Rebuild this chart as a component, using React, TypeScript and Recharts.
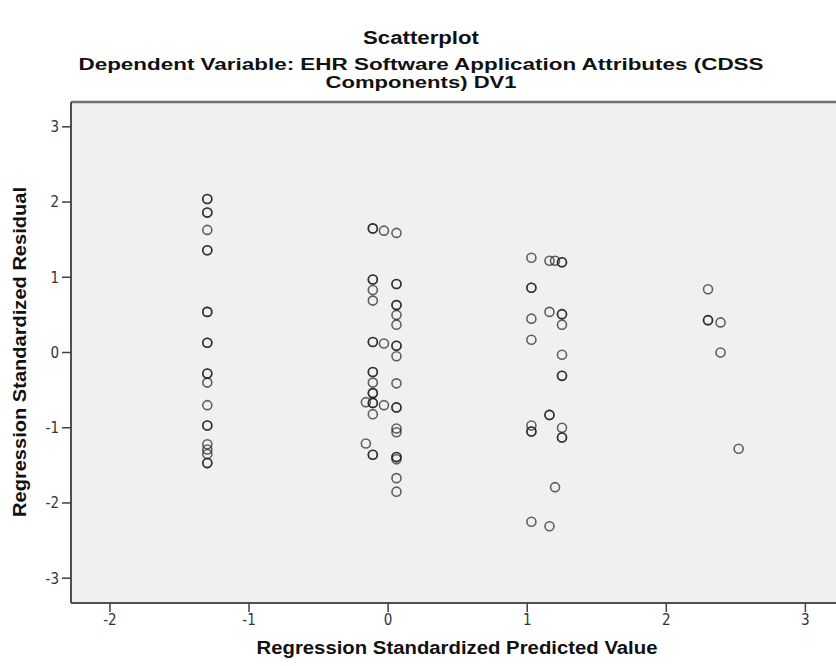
import React from "react";
import {
  ScatterChart,
  Scatter,
  XAxis,
  YAxis,
  CartesianGrid,
  ReferenceLine,
} from "recharts";

// Points as [predicted, residual]; repeated entries are overlapping cases (drawn darker)
const clusterA: [number, number][] = [
  [-1.3, 2.04], [-1.3, 2.04], [-1.3, 1.86], [-1.3, 1.86], [-1.3, 1.63],
  [-1.3, 1.36], [-1.3, 1.36], [-1.3, 0.54], [-1.3, 0.54], [-1.3, 0.13],
  [-1.3, 0.13], [-1.3, -0.28], [-1.3, -0.28], [-1.3, -0.4], [-1.3, -0.7],
  [-1.3, -0.97], [-1.3, -0.97], [-1.3, -1.22], [-1.3, -1.29], [-1.3, -1.35],
  [-1.3, -1.47], [-1.3, -1.47],
];

const clusterB: [number, number][] = [
  [-0.11, 1.65], [-0.11, 1.65], [-0.11, 0.97], [-0.11, 0.97], [-0.11, 0.83],
  [-0.11, 0.69], [-0.11, 0.14], [-0.11, 0.14], [-0.11, -0.26], [-0.11, -0.26],
  [-0.11, -0.4], [-0.11, -0.54], [-0.11, -0.54], [-0.11, -0.67], [-0.11, -0.67],
  [-0.11, -0.82], [-0.11, -1.36], [-0.11, -1.36],
  [-0.16, -0.66], [-0.16, -1.21],
  [-0.03, 1.62], [-0.03, 0.12], [-0.03, -0.7],
  [0.06, 1.59], [0.06, 0.91], [0.06, 0.91], [0.06, 0.63], [0.06, 0.63],
  [0.06, 0.5], [0.06, 0.37], [0.06, 0.09], [0.06, 0.09], [0.06, -0.05],
  [0.06, -0.41], [0.06, -0.73], [0.06, -0.73], [0.06, -1.01], [0.06, -1.06],
  [0.06, -1.39], [0.06, -1.39], [0.06, -1.42], [0.06, -1.67], [0.06, -1.85],
];

const clusterC: [number, number][] = [
  [1.03, 1.26], [1.03, 0.86], [1.03, 0.86], [1.03, 0.45], [1.03, 0.17],
  [1.03, -0.97], [1.03, -1.05], [1.03, -1.05], [1.03, -2.25],
  [1.16, 1.22], [1.16, 0.54], [1.16, -0.83], [1.16, -0.83], [1.16, -2.31],
  [1.2, 1.22], [1.2, -1.79],
  [1.25, 1.2], [1.25, 1.2], [1.25, 0.51], [1.25, 0.51], [1.25, 0.37],
  [1.25, -0.03], [1.25, -0.31], [1.25, -0.31], [1.25, -1.0], [1.25, -1.13],
  [1.25, -1.13],
];

const clusterD: [number, number][] = [
  [2.3, 0.84], [2.3, 0.43], [2.3, 0.43], [2.39, 0.4], [2.39, 0.0], [2.52, -1.28],
];

const xTicks = [-2, -1, 0, 1, 2, 3];
const yTicks = [-3, -2, -1, 0, 1, 2, 3];
const xDomain: [number, number] = [-2.28, 3.22];
const yDomain: [number, number] = [-3.33, 3.33];

const titleText = "Scatterplot";
const subtitleLine1 = "Dependent Variable: EHR Software Application Attributes (CDSS";
const subtitleLine2 = "Components) DV1";
const xTitle = "Regression Standardized Predicted Value";
const yTitle = "Regression Standardized Residual";

const allPoints = [...clusterA, ...clusterB, ...clusterC, ...clusterD].map(
  ([x, y]) => ({ x, y })
);

const tickFont = "'Liberation Sans Narrow', 'DejaVu Sans Condensed', 'Liberation Sans', sans-serif";
const titleFont = "'Liberation Sans Narrow', 'Liberation Sans', 'DejaVu Sans', sans-serif";

export default function App() {
  return (
    <div
      style={{
        position: "fixed",
        left: 0,
        top: 0,
        width: 836,
        height: 666,
        background: "#ffffff",
        overflow: "hidden",
      }}
    >
      <ScatterChart
        width={836}
        height={666}
        margin={{ top: 102, right: 0, bottom: 0, left: 0 }}
      >
        <CartesianGrid fill="#f0f0f0" horizontal={false} vertical={false} />
        <XAxis
          type="number"
          dataKey="x"
          domain={xDomain}
          ticks={xTicks}
          allowDataOverflow
          height={63}
          tickSize={9}
          tickMargin={2}
          axisLine={{ stroke: "#505050", strokeWidth: 2 }}
          tickLine={{ stroke: "#404040", strokeWidth: 1.5 }}
          tick={{ fill: "#333", fontSize: 15, fontFamily: tickFont }}
        />
        <YAxis
          type="number"
          dataKey="y"
          domain={yDomain}
          ticks={yTicks}
          allowDataOverflow
          width={71}
          tickSize={9}
          tickMargin={3}
          axisLine={{ stroke: "#505050", strokeWidth: 2 }}
          tickLine={{ stroke: "#404040", strokeWidth: 1.5 }}
          tick={{ fill: "#333", fontSize: 15, fontFamily: tickFont }}
        />
        <ReferenceLine y={yDomain[1]} stroke="#707070" strokeWidth={2.5} ifOverflow="visible" />
        <Scatter
          data={allPoints}
          fill="none"
          stroke="#1a1a1a"
          strokeOpacity={0.68}
          strokeWidth={1.6}
          isAnimationActive={false}
        />
      </ScatterChart>
      <svg
        width={836}
        height={666}
        style={{ position: "absolute", left: 0, top: 0, pointerEvents: "none" }}
      >
        <g fontFamily={titleFont} fontWeight="bold" fill="#111">
          <text x={421} y={44} fontSize={18} textAnchor="middle" textLength={116} lengthAdjust="spacingAndGlyphs">
            {titleText}
          </text>
          <text x={421} y={70} fontSize={16} textAnchor="middle" textLength={685} lengthAdjust="spacingAndGlyphs">
            {subtitleLine1}
          </text>
          <text x={421} y={88} fontSize={16} textAnchor="middle" textLength={191} lengthAdjust="spacingAndGlyphs">
            {subtitleLine2}
          </text>
          <text x={457} y={654} fontSize={18} textAnchor="middle" textLength={401} lengthAdjust="spacingAndGlyphs">
            {xTitle}
          </text>
          <text
            x={0}
            y={0}
            fontSize={18}
            textAnchor="middle"
            textLength={330}
            lengthAdjust="spacingAndGlyphs"
            transform="translate(26, 352) rotate(-90)"
          >
            {yTitle}
          </text>
        </g>
      </svg>
    </div>
  );
}
